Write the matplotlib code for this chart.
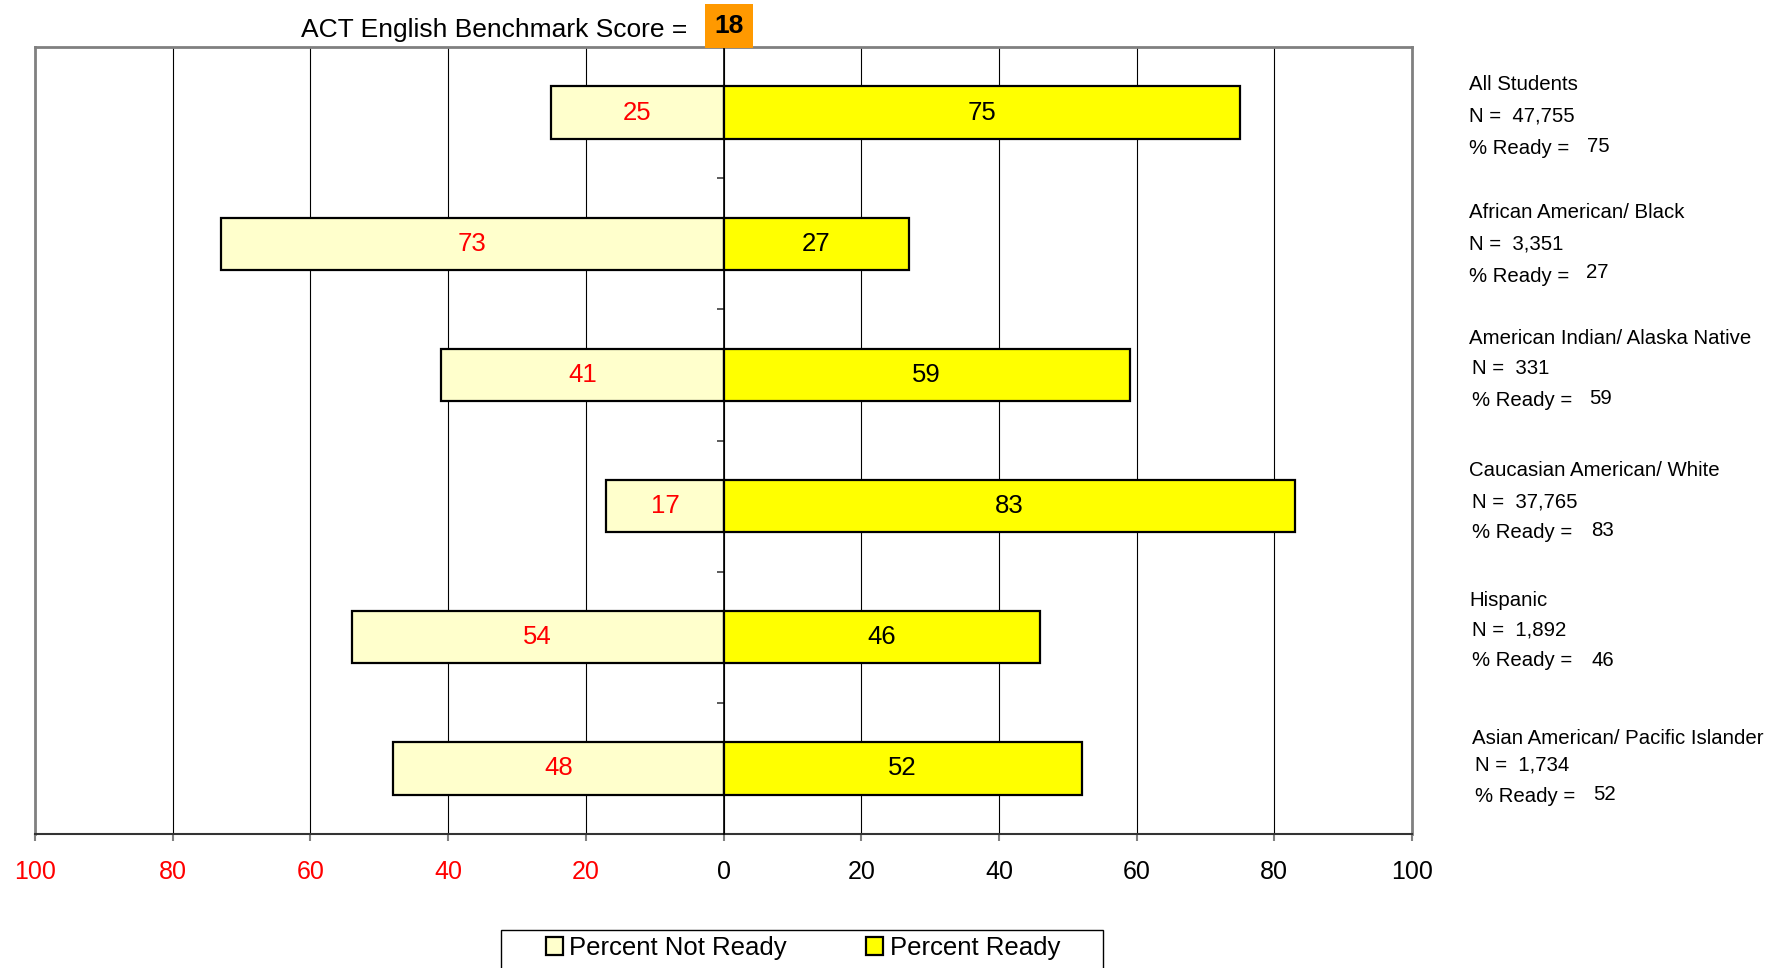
import numpy as np
import matplotlib
matplotlib.use("Agg")
import matplotlib.pyplot as plt
from matplotlib.patches import Patch, Rectangle

plt.rcParams['font.family'] = ['Liberation Sans', 'DejaVu Sans']

# ---- data ----
groups = ["All Students", "African American/ Black", "American Indian/ Alaska Native",
          "Caucasian American/ White", "Hispanic", "Asian American/ Pacific Islander"]
n_values = ["47,755", "3,351", "331", "37,765", "1,892", "1,734"]
not_ready = [25, 73, 41, 17, 54, 48]
ready = [75, 27, 59, 83, 46, 52]
xticks = [-100, -80, -60, -40, -20, 0, 20, 40, 60, 80, 100]
benchmark = 18

W, H = 1779, 968
fig = plt.figure(figsize=(W / 100, H / 100), dpi=100)

def fx(px):
    return px / W

def fy(py):
    return 1 - py / H

ax = fig.add_axes([fx(35), fy(834), fx(1412) - fx(35), fy(47) - fy(834)])

y = np.arange(len(groups))
nr = np.array(not_ready)
rd = np.array(ready)
b1 = ax.barh(y, -nr, height=0.4, color='#FFFFCC', edgecolor='black', linewidth=1.6, zorder=3)
b2 = ax.barh(y, rd, height=0.4, color='#FFFF00', edgecolor='black', linewidth=1.6, zorder=3)
ax.bar_label(b1, labels=[str(v) for v in not_ready], label_type='center', color='#FF0000', fontsize=18.5)
ax.bar_label(b2, labels=[str(v) for v in ready], label_type='center', color='black', fontsize=18.5)

ax.set_xlim(-100, 100)
ax.set_ylim(len(groups) - 0.5, -0.5)
ax.set_xticks(xticks)
ax.set_xticklabels([str(abs(t)) for t in xticks])
for t, lab in zip(xticks, ax.get_xticklabels()):
    lab.set_color('#FF0000' if t < 0 else 'black')
ax.tick_params(axis='x', labelsize=18, length=5, width=1.5, color='#808080', pad=14)
ax.set_yticks([])
ax.grid(axis='x', color='black', linewidth=0.8, zorder=0)
ax.set_axisbelow(True)
for s in ['left', 'top', 'right']:
    ax.spines[s].set_color('#808080')
    ax.spines[s].set_linewidth(2)
ax.spines['bottom'].set_color('#333333')
ax.spines['bottom'].set_linewidth(1.5)

# central axis with ticks between categories
sec = ax.secondary_yaxis(0.5)
sec.set_alignment('left')
sec.set_yticks(np.arange(0.5, len(groups) - 0.5, 1))
sec.set_yticklabels([])
sec.tick_params(axis='y', length=5, width=1.2, color='#404040')
sec.spines['left'].set_color('black')
sec.spines['left'].set_linewidth(1.2)
sec.set_zorder(5)

# title
fig.text(fx(301), fy(37.3), "ACT English Benchmark Score =", fontsize=19, va='baseline', ha='left')
fig.patches.append(Rectangle((fx(705), fy(48)), fx(753) - fx(705), fy(4) - fy(48),
                             transform=fig.transFigure, facecolor='#FF9900', edgecolor='none', zorder=5))
fig.text(fx(729), fy(33), str(benchmark), fontsize=19, fontweight='bold', va='baseline', ha='center', zorder=6)

# right side annotations
name_pos = [(1469, 85), (1469, 212), (1469, 338), (1469, 470), (1469, 600), (1472, 738)]
n_pos = [(1469, 116), (1469, 244), (1472, 368), (1472, 502), (1472, 630), (1475, 765)]
r_pos = [(1469, 148), (1469, 276), (1472, 400), (1472, 533), (1472, 661), (1475, 797)]
v_pos = [(1587, 146), (1586, 272), (1589, 398), (1591, 530), (1592, 661), (1593, 795)]
for i in range(len(groups)):
    fig.text(fx(name_pos[i][0]), fy(name_pos[i][1]), groups[i], fontsize=14.7, va='center', ha='left')
    fig.text(fx(n_pos[i][0]), fy(n_pos[i][1]), "N =  " + n_values[i], fontsize=14.7, va='center', ha='left')
    fig.text(fx(r_pos[i][0]), fy(r_pos[i][1]), "% Ready =", fontsize=14.7, va='center', ha='left')
    fig.text(fx(v_pos[i][0]), fy(v_pos[i][1]), str(ready[i]), fontsize=14.7, va='center', ha='left')

# legend
fig.patches.append(Rectangle((fx(501), -0.05), fx(1103) - fx(501), fy(930) + 0.05,
                             transform=fig.transFigure, facecolor='white', edgecolor='black',
                             linewidth=1.0))
handles = [Patch(facecolor='#FFFFCC', edgecolor='black', linewidth=1.6),
           Patch(facecolor='#FFFF00', edgecolor='black', linewidth=1.6)]
fig.legend(handles, ["Percent Not Ready", "Percent Ready"], loc='center left',
           bbox_to_anchor=(fx(546), fy(948)), bbox_transform=fig.transFigure,
           ncol=2, frameon=False, fontsize=18.5, borderpad=0, borderaxespad=0,
           handlelength=0.65, handleheight=0.65, handletextpad=0.25, columnspacing=3.1)

fig.savefig("out.png", dpi=100)
